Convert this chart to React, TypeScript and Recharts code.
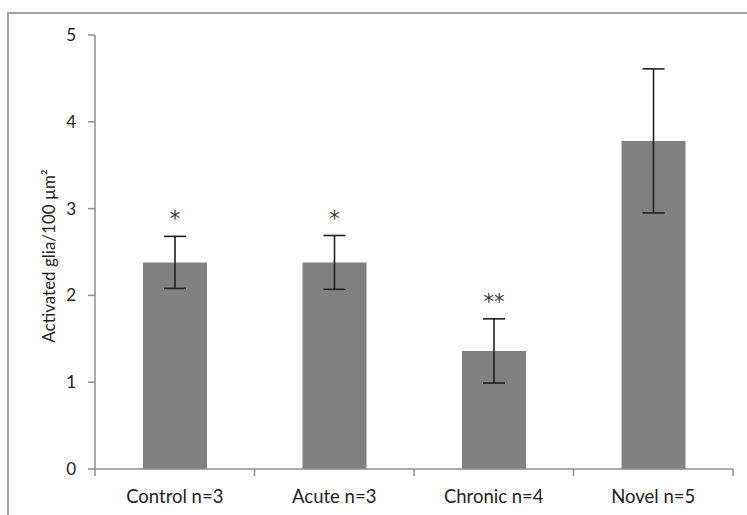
import React from "react";
import { ComposedChart, Bar, XAxis, YAxis, ErrorBar, LabelList, Label } from "recharts";

const categories = ["Control n=3", "Acute n=3", "Chronic n=4", "Novel n=5"];
const means = [2.38, 2.38, 1.36, 3.78];
const errors = [0.3, 0.31, 0.37, 0.83];
const marks = ["*", "*", "**", ""];
const yTicks = [0, 1, 2, 3, 4, 5];

const data = categories.map((name, i) => ({ name, value: means[i], err: errors[i], mark: marks[i] }));

const FONT = "Lato, 'Open Sans', sans-serif";
const AXIS = "#8e8e8e";

const StarLabel = (props: any) => {
  const { x, y, width, height, index } = props;
  const d = data[index];
  if (!d || !d.mark) return null;
  const perUnit = height / d.value;
  const top = y - d.err * perUnit;
  return (
    <text x={x + width / 2} y={top - 10} textAnchor="middle" fontFamily="'DejaVu Sans', sans-serif" fontSize={21} fill="#3a3a3a">
      {d.mark}
    </text>
  );
};

const CatTick = (props: any) => {
  const { x, y, payload, index, visibleTicksCount } = props;
  const half = payload && payload.offset ? payload.offset : 0;
  const isLast = index === (visibleTicksCount ?? categories.length) - 1;
  return (
    <g>
      <line x1={x - half} x2={x - half} y1={y} y2={y + 7} stroke={AXIS} strokeWidth={1.5} />
      {isLast && <line x1={x + half} x2={x + half} y1={y} y2={y + 7} stroke={AXIS} strokeWidth={1.5} />}
      <text x={x} y={y + 34} textAnchor="middle" fontFamily={FONT} fontSize={18.5} fill="#222">
        {payload.value}
      </text>
    </g>
  );
};

export default function App() {
  return (
    <div style={{ position: "absolute", left: 0, top: 0, width: 747, height: 515, background: "#fff" }}>
      <div
        style={{
          position: "absolute",
          left: 7,
          top: 12,
          width: 740,
          height: 503,
          borderTop: "2px solid #a3a3a3",
          borderLeft: "2px solid #a3a3a3",
          boxSizing: "border-box",
        }}
      />
      <div style={{ position: "absolute", left: 0, top: 0 }}>
        <ComposedChart width={747} height={515} data={data} margin={{ top: 35, right: 14, bottom: 16, left: 35 }}>
          <XAxis
            dataKey="name"
            type="category"
            height={30}
            axisLine={{ stroke: AXIS, strokeWidth: 1.5 }}
            tickLine={false}
            tickSize={0}
            tickMargin={0}
            interval={0}
            tick={<CatTick />}
          />
          <YAxis
            domain={[0, 5]}
            ticks={yTicks}
            width={60}
            axisLine={{ stroke: AXIS, strokeWidth: 1.5 }}
            tickLine={{ stroke: AXIS, strokeWidth: 1.5 }}
            tickSize={7}
            tickMargin={12}
            tick={{ fontFamily: FONT, fontSize: 17, fill: "#222" }}
          >
            <Label
              content={(p: any) => {
                const vb = p.viewBox;
                const cx = vb.x + 13;
                const cy = vb.y + vb.height / 2 + 4;
                return (
                  <text
                    x={cx}
                    y={cy}
                    transform={`rotate(-90 ${cx} ${cy})`}
                    textAnchor="middle"
                    dominantBaseline="central"
                    fontFamily={FONT}
                    fontSize={17}
                    fill="#222"
                  >
                    Activated glia/100 µm²
                  </text>
                );
              }}
            />
          </YAxis>
          <Bar dataKey="value" fill="#808281" barSize={64} isAnimationActive={false}>
            <ErrorBar dataKey="err" width={11} stroke="#222" strokeWidth={1.6} />
            <LabelList dataKey="mark" content={<StarLabel />} />
          </Bar>
        </ComposedChart>
      </div>
    </div>
  );
}
